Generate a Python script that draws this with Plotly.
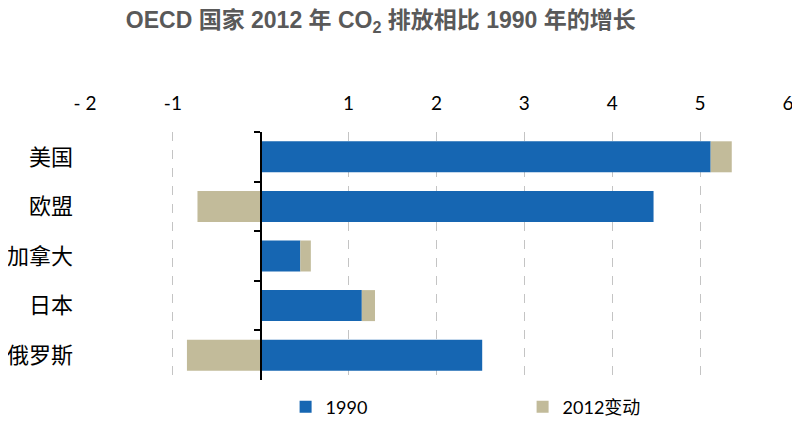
import plotly.graph_objects as go

countries = ['美国', '欧盟', '加拿大', '日本', '俄罗斯']
emissions_1990 = [5.12, 4.47, 0.45, 1.15, 2.52]
change_2012 = [0.24, -0.72, 0.12, 0.15, -0.84]

tick_vals = [-2, -1, 0, 1, 2, 3, 4, 5, 6]
tick_text = ['- 2', '-1', '', '1', '2', '3', '4', '5', '6']

blue = '#1666B2'
beige = '#C2BB9A'

fig = go.Figure()
fig.add_trace(go.Bar(y=countries, x=emissions_1990, orientation='h', name='1990',
                     marker=dict(color=blue, line=dict(width=0))))
fig.add_trace(go.Bar(y=countries, x=change_2012, orientation='h', name='2012变动',
                     marker=dict(color=beige, line=dict(width=0))))
# invisible trace so the zero axis (y2) gets drawn
fig.add_trace(go.Scatter(y=countries, x=[0] * len(countries), yaxis='y2', mode='markers',
                         marker=dict(opacity=0), showlegend=False, hoverinfo='skip'))

fig.update_layout(
    width=800, height=424,
    barmode='relative', bargap=0.375,
    paper_bgcolor='white', plot_bgcolor='white',
    margin=dict(l=77, r=20, t=124, b=52),
    title=dict(text='OECD 国家 2012 年 CO<sub>2</sub> 排放相比 1990 年的增长',
               x=0.466, xanchor='center', y=0.972, yanchor='middle',
               font=dict(family='Liberation Sans, Noto Sans CJK SC', size=23, color='#595959', weight='bold')),
    xaxis=dict(range=[-2, 6], side='top', tickvals=tick_vals, ticktext=tick_text,
               showgrid=True, gridcolor='#C4C4C4', griddash='dash', gridwidth=1,
               zeroline=False, showline=False, ticks='', automargin=False, ticklabelstandoff=17,
               tickfont=dict(family='Lato, Noto Sans CJK SC', size=19, color='black')),
    yaxis=dict(autorange='reversed', showgrid=False, zeroline=False, showline=False,
               ticks='', ticklabelstandoff=11, automargin=False,
               tickfont=dict(family='Noto Sans CJK SC', size=22, color='black')),
    yaxis2=dict(overlaying='y', matches='y', anchor='free', position=0.25,
                showline=True, linecolor='black', linewidth=1.5, automargin=False,
                ticks='outside', tickson='boundaries', ticklen=6, tickcolor='black', tickwidth=1.5,
                showticklabels=False, showgrid=False, zeroline=False),
    legend=dict(orientation='h', xref='container', yref='container',
                x=0.347, xanchor='left', y=0.059, yanchor='middle',
                entrywidth=192, entrywidthmode='pixels',
                font=dict(family='Lato, Noto Sans CJK SC', size=18, color='black')),
)

fig.write_html('out.html')
